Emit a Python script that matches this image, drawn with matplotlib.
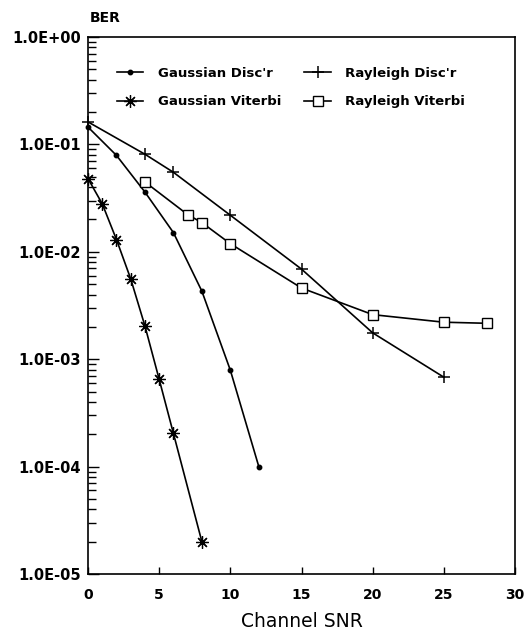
import matplotlib
matplotlib.use('Agg')
import matplotlib.pyplot as plt
from matplotlib.ticker import LogLocator, FixedLocator, NullFormatter

# BER vs channel SNR for the four detectors
gauss_disc_snr = [0, 2, 4, 6, 8, 10, 12]
gauss_disc_ber = [0.145, 0.079, 0.036, 0.0151, 0.0043, 0.00079, 0.0001]

gauss_vit_snr = [0, 1, 2, 3, 4, 5, 6, 8]
gauss_vit_ber = [0.048, 0.028, 0.013, 0.0056, 0.00204, 0.00065, 0.000204, 0.00002]

rayl_disc_snr = [0, 4, 6, 10, 15, 20, 25]
rayl_disc_ber = [0.162, 0.081, 0.055, 0.0219, 0.0069, 0.00176, 0.00068]

rayl_vit_snr = [4, 7, 8, 10, 15, 20, 25, 28]
rayl_vit_ber = [0.0447, 0.0222, 0.0187, 0.0119, 0.0046, 0.0026, 0.00221, 0.00216]

x_ticks = [0, 5, 10, 15, 20, 25, 30]
y_ticks = [1e-5, 1e-4, 1e-3, 1e-2, 1e-1, 1e0]
y_labels = ['1.0E-05', '1.0E-04', '1.0E-03', '1.0E-02', '1.0E-01', '1.0E+00']

plt.rcParams['font.family'] = ['DejaVu Sans']

fig = plt.figure(figsize=(5.28, 6.38), dpi=100)
ax = fig.add_axes([88 / 528, 1 - 574 / 638, 427 / 528, 537 / 638])

lw = 1.2
gd, = ax.plot(gauss_disc_snr, gauss_disc_ber, color='black', lw=lw, marker='o',
              markersize=3.2, label="Gaussian Disc'r", clip_on=False, zorder=3)
rd, = ax.plot(rayl_disc_snr, rayl_disc_ber, color='black', lw=lw, marker='+',
              markersize=9, markeredgewidth=1.1, label="Rayleigh Disc'r",
              clip_on=False, zorder=3)
gv, = ax.plot(gauss_vit_snr, gauss_vit_ber, color='black', lw=lw, marker=(8, 2, 0),
              markersize=9, markeredgewidth=0.9, label='Gaussian Viterbi',
              clip_on=False, zorder=3)
rv, = ax.plot(rayl_vit_snr, rayl_vit_ber, color='black', lw=lw, marker='s',
              markersize=7.5, markerfacecolor='white', markeredgewidth=1.0,
              label='Rayleigh Viterbi', clip_on=False, zorder=3)

ax.set_yscale('log')
ax.set_xlim(0, 30)
ax.set_ylim(1e-5, 1)

ax.xaxis.set_major_locator(FixedLocator(x_ticks))
ax.set_xticklabels([str(v) for v in x_ticks], fontsize=10, fontweight='bold')
ax.yaxis.set_major_locator(FixedLocator(y_ticks))
ax.set_yticklabels(y_labels, fontsize=10.5, fontweight='bold')
ax.yaxis.set_minor_locator(LogLocator(base=10, subs=range(2, 10)))
ax.yaxis.set_minor_formatter(NullFormatter())

ax.tick_params(axis='x', direction='in', length=5, width=1.0, pad=10)
ax.tick_params(axis='y', which='major', direction='in', length=8, width=1.0, pad=5)
ax.tick_params(axis='y', which='minor', direction='in', length=6, width=1.0)
for s in ax.spines.values():
    s.set_linewidth(1.2)

ax.set_xlabel('Channel SNR', fontsize=13.5, labelpad=7)
fig.text(90 / 528, 1 - 18 / 638, 'BER', fontsize=10, fontweight='bold',
         ha='left', va='center')

# legend fills column-wise, so order handles to get Disc'r on the top row
ax.legend([gd, gv, rd, rv], [h.get_label() for h in (gd, gv, rd, rv)],
          ncol=2, loc='upper left', bbox_to_anchor=(0.068, 0.945),
          frameon=False, prop={'weight': 'bold', 'size': 9.5},
          handlelength=2.0, handletextpad=1.1, columnspacing=1.75,
          labelspacing=1.2, borderpad=0, borderaxespad=0)

fig.savefig('out.png', dpi=100)
